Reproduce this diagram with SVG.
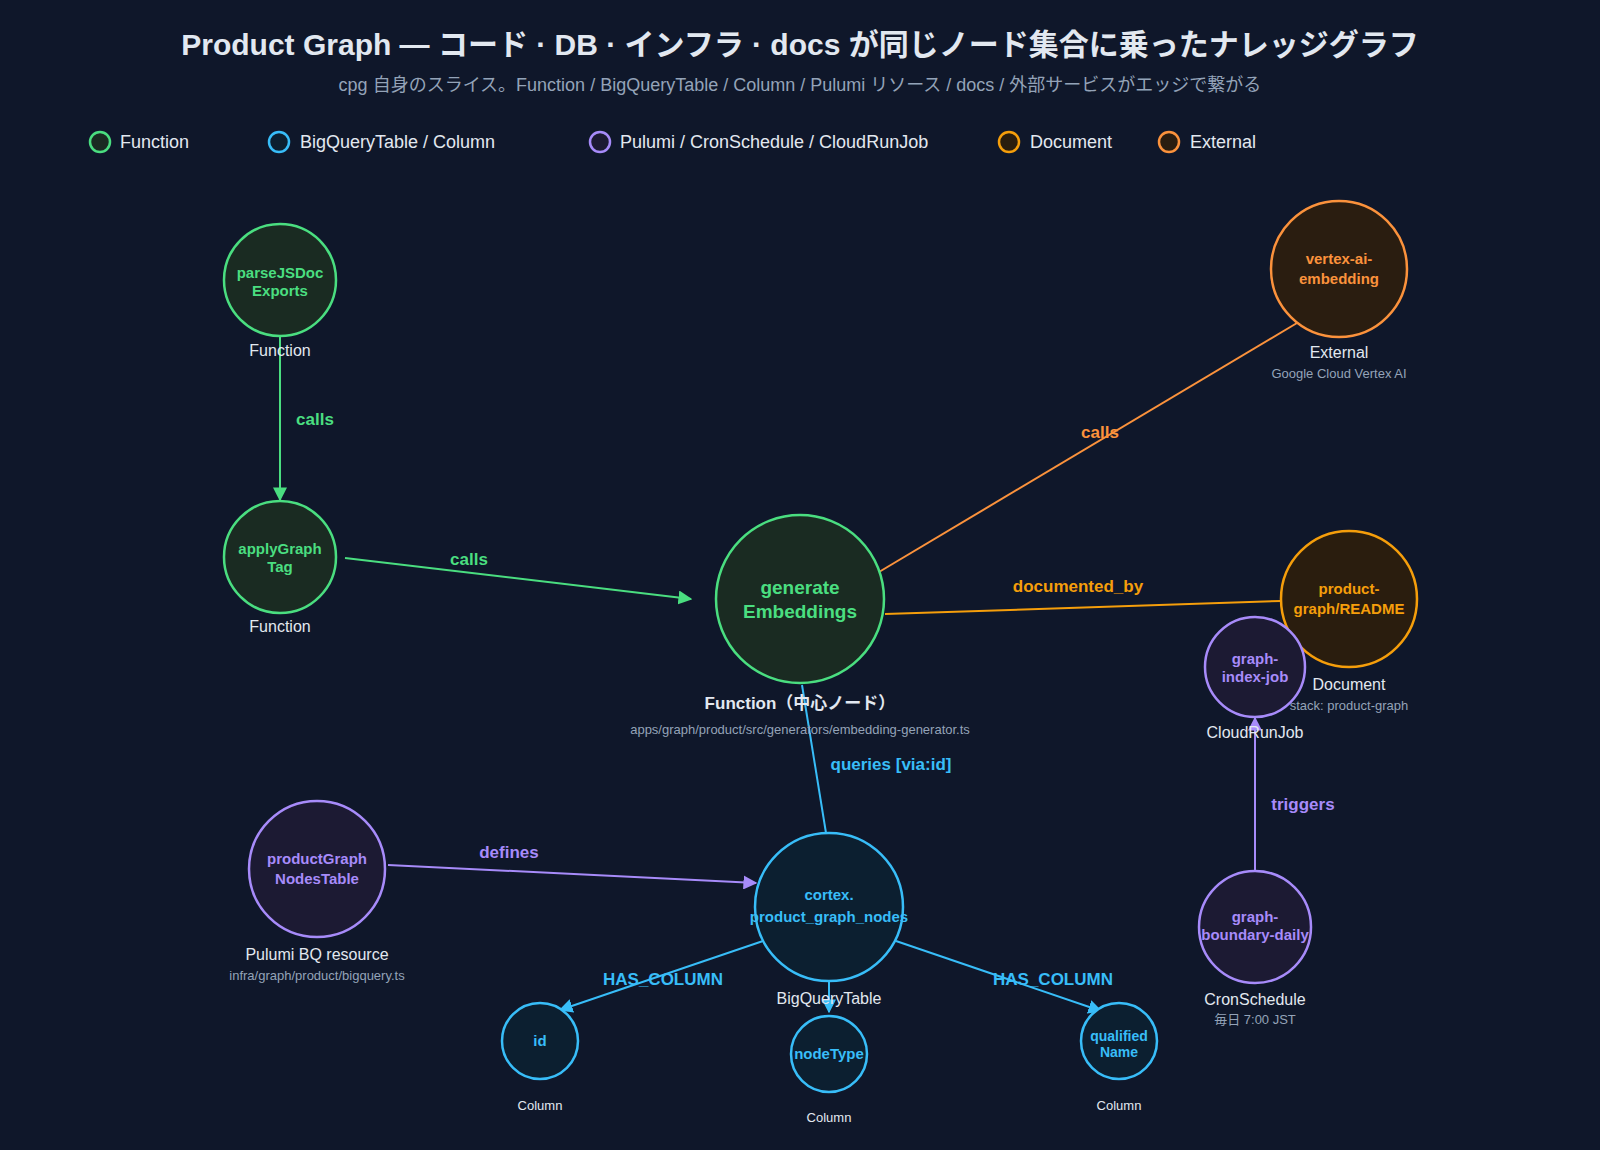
<svg xmlns="http://www.w3.org/2000/svg" width="1600" height="1150" viewBox="0 0 1600 1150">
<style>
text{font-family:"Liberation Sans","Noto Sans CJK JP",sans-serif}
.t{font-size:30px;font-weight:bold;fill:#e2e8f0}
.st{font-size:18px;fill:#94a3b8}
.lg{font-size:18px;fill:#e2e8f0}
.n{font-weight:bold;font-size:15px;text-anchor:middle}
.ty{font-size:16px;fill:#e2e8f0;text-anchor:middle}
.sub{font-size:13px;fill:#94a3b8;text-anchor:middle}
.el{font-size:17px;font-weight:bold}
.g{stroke:#4ade80;fill:#1a2b22}.gt{fill:#4ade80}
.b{stroke:#38bdf8;fill:#0c1f30}.bt{fill:#38bdf8}
.p{stroke:#a78bfa;fill:#1c1a33}.pt{fill:#a78bfa}
.a{stroke:#f59e0b;fill:#2a1d0e}.at{fill:#f59e0b}
.o{stroke:#fb923c;fill:#2a1d10}.ot{fill:#fb923c}
circle{stroke-width:2.5}
.e{fill:none;stroke-width:2}
</style>
<defs>
<marker id="mg" viewBox="0 0 10 10" refX="9" refY="5" markerWidth="7" markerHeight="7" orient="auto"><path d="M0,0L10,5L0,10z" fill="#4ade80"/></marker>
<marker id="mb" viewBox="0 0 10 10" refX="9" refY="5" markerWidth="7" markerHeight="7" orient="auto"><path d="M0,0L10,5L0,10z" fill="#38bdf8"/></marker>
<marker id="mp" viewBox="0 0 10 10" refX="9" refY="5" markerWidth="7" markerHeight="7" orient="auto"><path d="M0,0L10,5L0,10z" fill="#a78bfa"/></marker>
</defs>
<rect width="1600" height="1150" fill="#0f172a"/>
<text class="t" x="800" y="55" text-anchor="middle">Product Graph — コード · DB · インフラ · docs が同じノード集合に乗ったナレッジグラフ</text>
<text class="st" x="800" y="91" text-anchor="middle">cpg 自身のスライス。Function / BigQueryTable / Column / Pulumi リソース / docs / 外部サービスがエッジで繋がる</text>
<g id="legend">
<circle class="g" cx="100" cy="142" r="10" stroke-width="2"/><text class="lg" x="120" y="148">Function</text>
<circle class="b" cx="279" cy="142" r="10" stroke-width="2"/><text class="lg" x="300" y="148">BigQueryTable / Column</text>
<circle class="p" cx="600" cy="142" r="10" stroke-width="2"/><text class="lg" x="620" y="148">Pulumi / CronSchedule / CloudRunJob</text>
<circle class="a" cx="1009" cy="142" r="10" stroke-width="2"/><text class="lg" x="1030" y="148">Document</text>
<circle class="o" cx="1169" cy="142" r="10" stroke-width="2"/><text class="lg" x="1190" y="148">External</text>
</g>
<g id="edges">
<line class="e" x1="280" y1="337" x2="280" y2="500" stroke="#4ade80" marker-end="url(#mg)"/>
<text class="el gt" x="315" y="425" text-anchor="middle">calls</text>
<line class="e" x1="345" y1="558" x2="691" y2="599" stroke="#4ade80" marker-end="url(#mg)"/>
<text class="el gt" x="469" y="565" text-anchor="middle">calls</text>
<line class="e" x1="879" y1="572" x2="1297" y2="323" stroke="#fb923c"/>
<text class="el ot" x="1100" y="438" text-anchor="middle">calls</text>
<line class="e" x1="885" y1="614" x2="1281" y2="601" stroke="#f59e0b"/>
<text class="el at" x="1078" y="592" text-anchor="middle">documented_by</text>
<line class="e" x1="802" y1="685" x2="826" y2="833" stroke="#38bdf8"/>
<text class="el bt" x="891" y="770" text-anchor="middle">queries [via:id]</text>
<line class="e" x1="388" y1="865" x2="756" y2="883" stroke="#a78bfa" marker-end="url(#mp)"/>
<text class="el pt" x="509" y="858" text-anchor="middle">defines</text>
<line class="e" x1="763" y1="941" x2="560" y2="1010" stroke="#38bdf8" marker-end="url(#mb)"/>
<text class="el bt" x="663" y="985" text-anchor="middle">HAS_COLUMN</text>
<line class="e" x1="829" y1="981" x2="829" y2="1012" stroke="#38bdf8" marker-end="url(#mb)"/>
<line class="e" x1="896" y1="941" x2="1101" y2="1011" stroke="#38bdf8" marker-end="url(#mb)"/>
<text class="el bt" x="1053" y="985" text-anchor="middle">HAS_COLUMN</text>
<line class="e" x1="1255" y1="872" x2="1255" y2="718" stroke="#a78bfa" marker-end="url(#mp)"/>
<text class="el pt" x="1303" y="810" text-anchor="middle">triggers</text>
</g>
<g id="parseJSDocExports"><circle class="g" cx="280" cy="280" r="56"/><text class="n gt" x="280" y="278">parseJSDoc</text><text class="n gt" x="280" y="296">Exports</text><text class="ty" x="280" y="356">Function</text></g>
<g id="applyGraphTag"><circle class="g" cx="280" cy="557" r="56"/><text class="n gt" x="280" y="554">applyGraph</text><text class="n gt" x="280" y="572">Tag</text><text class="ty" x="280" y="632">Function</text></g>
<g id="generateEmbeddings"><circle class="g" cx="800" cy="599" r="84" stroke-width="3.5"/><text class="n gt" x="800" y="594" style="font-size:19px">generate</text><text class="n gt" x="800" y="618" style="font-size:19px">Embeddings</text><text class="ty" x="800" y="709" style="font-weight:bold;font-size:17px">Function（中心ノード）</text><text class="sub" x="800" y="734">apps/graph/product/src/generators/embedding-generator.ts</text></g>
<g id="vertexAiEmbedding"><circle class="o" cx="1339" cy="269" r="68"/><text class="n ot" x="1339" y="264">vertex-ai-</text><text class="n ot" x="1339" y="284">embedding</text><text class="ty" x="1339" y="358">External</text><text class="sub" x="1339" y="378">Google Cloud Vertex AI</text></g>
<g id="productGraphReadme"><circle class="a" cx="1349" cy="599" r="68"/><text class="n at" x="1349" y="594">product-</text><text class="n at" x="1349" y="614">graph/README</text><text class="ty" x="1349" y="690">Document</text><text class="sub" x="1349" y="710">stack: product-graph</text></g>
<g id="graphIndexJob"><circle class="p" cx="1255" cy="667" r="50"/><text class="n pt" x="1255" y="664">graph-</text><text class="n pt" x="1255" y="682">index-job</text><text class="ty" x="1255" y="738">CloudRunJob</text></g>
<g id="graphBoundaryDaily"><circle class="p" cx="1255" cy="927" r="56"/><text class="n pt" x="1255" y="922">graph-</text><text class="n pt" x="1255" y="940">boundary-daily</text><text class="ty" x="1255" y="1005">CronSchedule</text><text class="sub" x="1255" y="1024">毎日 7:00 JST</text></g>
<g id="productGraphNodesTable"><circle class="p" cx="317" cy="869" r="68"/><text class="n pt" x="317" y="864">productGraph</text><text class="n pt" x="317" y="884">NodesTable</text><text class="ty" x="317" y="960">Pulumi BQ resource</text><text class="sub" x="317" y="980">infra/graph/product/bigquery.ts</text></g>
<g id="cortexProductGraphNodes"><circle class="b" cx="829" cy="907" r="74" stroke-width="3"/><text class="n bt" x="829" y="900">cortex.</text><text class="n bt" x="829" y="922">product_graph_nodes</text><text class="ty" x="829" y="1004">BigQueryTable</text></g>
<g id="colId"><circle class="b" cx="540" cy="1041" r="38" stroke-width="2"/><text class="n bt" x="540" y="1046">id</text><text class="sub" x="540" y="1110" style="fill:#e2e8f0">Column</text></g>
<g id="colNodeType"><circle class="b" cx="829" cy="1054" r="38" stroke-width="2"/><text class="n bt" x="829" y="1059">nodeType</text><text class="sub" x="829" y="1122" style="fill:#e2e8f0">Column</text></g>
<g id="colQualifiedName"><circle class="b" cx="1119" cy="1041" r="38" stroke-width="2"/><text class="n bt" x="1119" y="1041" style="font-size:14px">qualified</text><text class="n bt" x="1119" y="1057" style="font-size:14px">Name</text><text class="sub" x="1119" y="1110" style="fill:#e2e8f0">Column</text></g>
</svg>
